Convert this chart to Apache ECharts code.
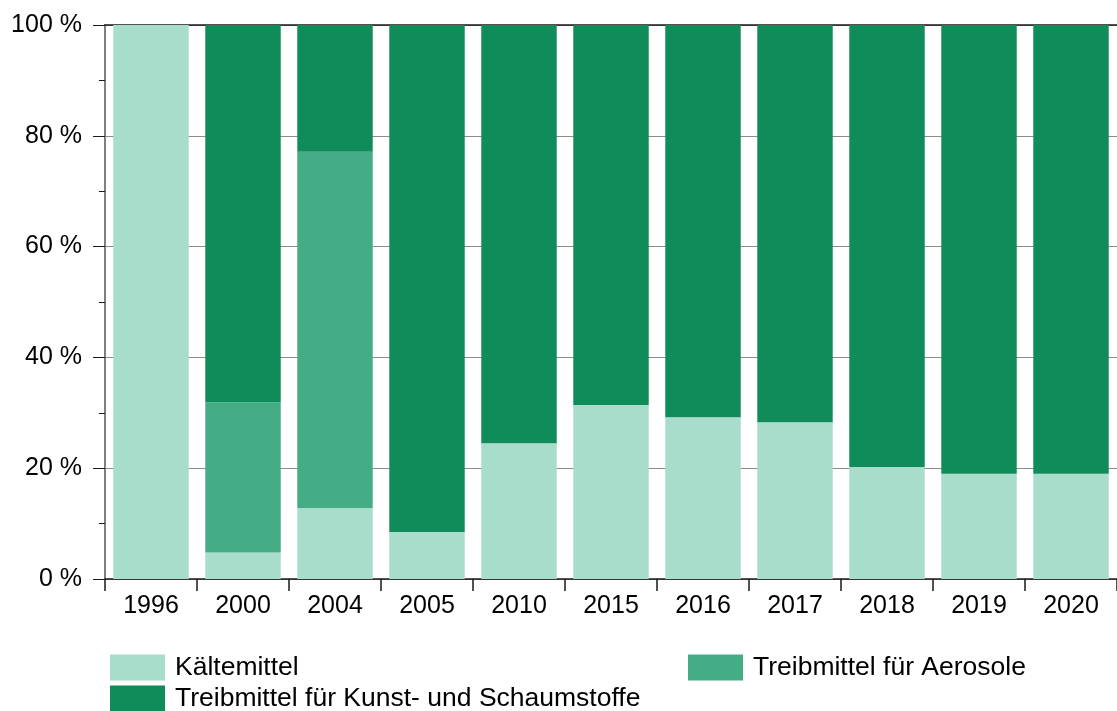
<!DOCTYPE html>
<html><head><meta charset="utf-8">
<script src="https://cdn.jsdelivr.net/npm/echarts@6/dist/echarts.min.js"></script>
<style>html,body{margin:0;padding:0;background:#fff}#c{width:1117px;height:711px}</style>
</head><body><div id="c"></div>
<script>
const categories = ['1996','2000','2004','2005','2010','2015','2016','2017','2018','2019','2020'];
const kaeltemittel = [100, 4.8, 12.8, 8.5, 24.5, 31.4, 29.2, 28.3, 20.2, 19.0, 19.0];
const aerosole = [0, 27.1, 64.3, 0, 0, 0, 0, 0, 0, 0, 0];
const kunstSchaum = [0, 68.1, 22.9, 91.5, 75.5, 68.6, 70.8, 71.7, 79.8, 81.0, 81.0];
const yTicks = [0, 20, 40, 60, 80, 100];

const FONT = 'Liberation Sans, Arial, sans-serif';
const chart = echarts.init(document.getElementById('c'));
const legendBase = {
  itemWidth: 55, itemHeight: 26, itemGap: 10, icon: 'rect', padding: 0,
  textStyle: {fontFamily: FONT, fontSize: 26.5, color: '#000', padding: [0,0,0,5]},
  selectedMode: false
};
chart.setOption({
  animation: false,
  grid: {left: 105, right: 0, top: 25, bottom: 132},
  xAxis: [{
    type: 'category', data: categories,
    axisLine: {lineStyle: {color: '#1a1a1a', width: 1.5}},
    axisTick: {show: true, length: 12, lineStyle: {color: '#1a1a1a', width: 1.5}},
    axisLabel: {fontFamily: FONT, fontSize: 25, color: '#000', margin: 15}
  }, {
    type: 'category', data: categories, position: 'top',
    axisLine: {show: true, lineStyle: {color: '#1a1a1a', width: 1.5}},
    axisTick: {show: false}, axisLabel: {show: false}
  }],
  yAxis: {
    type: 'value', min: yTicks[0], max: yTicks[yTicks.length-1], interval: 20,
    axisLine: {show: true, lineStyle: {color: '#808080', width: 2}},
    axisTick: {show: true, length: 12, lineStyle: {color: '#1a1a1a', width: 1}},
    minorTick: {show: true, splitNumber: 2, length: 6, lineStyle: {color: '#1a1a1a', width: 1}},
    splitLine: {show: true, lineStyle: {color: '#8c8c8c', width: 1}},
    axisLabel: {fontFamily: FONT, fontSize: 25, color: '#000', margin: 23, formatter: v => v + ' %'}
  },
  legend: [
    Object.assign({}, legendBase, {left: 110, top: 654, data: ['Kältemittel']}),
    Object.assign({}, legendBase, {left: 688, top: 654, data: ['Treibmittel für Aerosole']}),
    Object.assign({}, legendBase, {left: 110, top: 685, data: ['Treibmittel für Kunst- und Schaumstoffe']})
  ],
  series: [
    {name: 'Kältemittel', type: 'bar', stack: 's', data: kaeltemittel, barCategoryGap: '18%', itemStyle: {color: '#a8dccb'}},
    {name: 'Treibmittel für Aerosole', type: 'bar', stack: 's', data: aerosole, itemStyle: {color: '#44ad85'}},
    {name: 'Treibmittel für Kunst- und Schaumstoffe', type: 'bar', stack: 's', data: kunstSchaum, itemStyle: {color: '#108c5a'}}
  ]
});
</script></body></html>
